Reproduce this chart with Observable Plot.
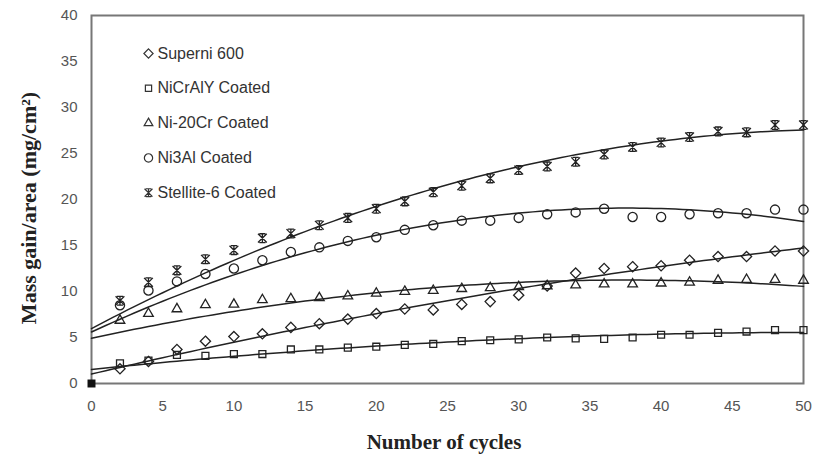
<!DOCTYPE html>
<html><head><meta charset="utf-8">
<script src="https://cdn.jsdelivr.net/npm/d3@7"></script>
<script src="https://cdn.jsdelivr.net/npm/@observablehq/plot@0.6"></script>
<style>body{margin:0;background:#fff}</style>
</head><body><div id="chart"></div>
<script>
// ---- Data ----
const cycles = [2,4,6,8,10,12,14,16,18,20,22,24,26,28,30,32,34,36,38,40,42,44,46,48,50];
const seriesNames = ["Superni 600","NiCrAlY Coated","Ni-20Cr Coated","Ni3Al Coated","Stellite-6 Coated"];
const superni  = [1.6,2.4,3.7,4.6,5.1,5.4,6.1,6.5,7.0,7.6,8.1,8.0,8.6,8.9,9.6,10.6,12.0,12.5,12.7,12.8,13.4,13.8,13.8,14.4,14.4];
const nicraly  = [2.2,2.5,3.1,3.0,3.2,3.2,3.7,3.7,3.9,4.0,4.2,4.3,4.6,4.7,4.8,5.0,4.9,4.85,5.0,5.3,5.3,5.5,5.65,5.8,5.8];
const ni20cr   = [6.85,7.6,8.1,8.55,8.6,9.1,9.2,9.3,9.5,9.8,10.0,10.1,10.3,10.4,10.5,10.6,10.7,10.8,10.8,10.9,11.0,11.2,11.3,11.3,11.2];
const ni3al    = [8.5,10.1,11.1,11.9,12.5,13.4,14.3,14.8,15.5,15.9,16.7,17.2,17.7,17.7,18.0,18.4,18.6,19.0,18.1,18.1,18.4,18.5,18.5,18.9,18.9];
const stellite = [9.0,11.0,12.3,13.5,14.5,15.8,16.3,17.2,18.0,19.0,19.8,20.8,21.5,22.3,23.2,23.6,24.1,24.9,25.7,26.2,26.8,27.4,27.3,28.1,28.1];
const origin = [{x: 0, y: 0}];
const xTicks = [0,5,10,15,20,25,30,35,40,45,50];
const yTicks = [0,5,10,15,20,25,30,35,40];
const yTitle = "Mass gain/area (mg/cm²)";
const xTitle = "Number of cycles";

const seriesValues = [superni, nicraly, ni20cr, ni3al, stellite];

// ---- polynomial least squares (trendline, includes the origin point) ----
function polyfit(xs, ys, deg) {
  const n = deg + 1;
  const A = Array.from({length: n}, () => new Array(n + 1).fill(0));
  for (let k = 0; k < xs.length; k++) {
    for (let i = 0; i < n; i++) {
      for (let j = 0; j < n; j++) A[i][j] += Math.pow(xs[k], i + j);
      A[i][n] += ys[k] * Math.pow(xs[k], i);
    }
  }
  for (let i = 0; i < n; i++) {
    let p = i;
    for (let r = i + 1; r < n; r++) if (Math.abs(A[r][i]) > Math.abs(A[p][i])) p = r;
    [A[i], A[p]] = [A[p], A[i]];
    for (let r = 0; r < n; r++) {
      if (r === i) continue;
      const f = A[r][i] / A[i][i];
      for (let c = i; c <= n; c++) A[r][c] -= f * A[i][c];
    }
  }
  return A.map((row, i) => row[n] / row[i]);
}
const DEG = 2;
const points = [];
const fits = [];
seriesNames.forEach((name, s) => {
  cycles.forEach((c, i) => points.push({series: name, x: c, y: seriesValues[s][i]}));
  const xs = [0, ...cycles], ys = [0, ...seriesValues[s]];
  const coef = polyfit(xs, ys, DEG);
  for (let t = 0; t <= 50; t += 0.5) {
    fits.push({series: name, x: t, y: coef.reduce((acc, c, i) => acc + c * Math.pow(t, i), 0)});
  }
});

// custom "star" marker (X with caps and vertical bar)
const starSymbol = {
  draw(ctx, size) {
    const r = Math.sqrt(size / Math.PI);
    ctx.moveTo(-r, -r); ctx.lineTo(r, r);
    ctx.moveTo(-r, r); ctx.lineTo(r, -r);
    ctx.moveTo(-r * 0.7, -r); ctx.lineTo(r * 0.7, -r);
    ctx.moveTo(-r * 0.7, r); ctx.lineTo(r * 0.7, r);
    ctx.moveTo(0, -r); ctx.lineTo(0, r);
  }
};
const symbols = ["diamond2", "square2", "triangle2", "circle", starSymbol];
const radii = [4.6, 4.4, 4.6, 4.6, 4.4];

const marks = [];
marks.push(Plot.frame({stroke: "#777", strokeWidth: 2}));
seriesNames.forEach((name, s) => {
  marks.push(Plot.line(fits.filter(d => d.series === name), {x: "x", y: "y", stroke: "#222", strokeWidth: 1.5}));
});
seriesNames.forEach((name, s) => {
  marks.push(Plot.dot(points.filter(d => d.series === name), {x: "x", y: "y", symbol: () => symbols[s], r: radii[s], stroke: "#222", strokeWidth: 1.3, fill: "none"}));
});
marks.push(Plot.dot(origin, {x: "x", y: "y", symbol: "square", r: 4.5, fill: "#111"}));

// legend inside the plot
seriesNames.forEach((name, s) => {
  const dy = 38 + s * 34.8;
  marks.push(Plot.dot([name], {frameAnchor: "top-left", dx: 57, dy, symbol: () => symbols[s], r: radii[s] * 0.9, stroke: "#333", strokeWidth: 1.2, fill: "none"}));
  marks.push(Plot.text([name], {text: d => d, frameAnchor: "top-left", lineAnchor: "middle", dx: 66, dy, textAnchor: "start", fontSize: 16, fill: "#333", fontFamily: "Liberation Sans, Arial, sans-serif"}));
});

marks.push(Plot.axisX({ticks: xTicks, tickSize: 0, tickPadding: 17, label: null, fontSize: 15, fill: "#555"}));
marks.push(Plot.axisY({ticks: yTicks, tickSize: 0, tickPadding: 14, label: null, fontSize: 15, fill: "#555"}));

const chart = Plot.plot({
  width: 814,
  height: 457,
  marginLeft: 91,
  marginRight: 11,
  marginTop: 15,
  marginBottom: 74,
  x: {domain: [0, 50]},
  y: {domain: [0, 40]},
  style: {fontFamily: "Liberation Sans, Arial, sans-serif", background: "#fff", overflow: "visible"},
  marks
});

// axis titles
const svg = d3.select(chart);
svg.append("text")
  .attr("transform", "translate(31,208) rotate(-90)")
  .attr("text-anchor", "middle")
  .attr("dominant-baseline", "middle")
  .attr("font-family", "Liberation Serif, Times New Roman, serif")
  .attr("font-weight", "bold")
  .attr("font-size", 22)
  .attr("fill", "#222")
  .text(yTitle);
svg.append("text")
  .attr("x", 444)
  .attr("y", 444)
  .attr("text-anchor", "middle")
  .attr("dominant-baseline", "middle")
  .attr("font-family", "Liberation Serif, Times New Roman, serif")
  .attr("font-weight", "bold")
  .attr("font-size", 21)
  .attr("fill", "#222")
  .text(xTitle);

document.getElementById("chart").appendChild(chart);
</script>
</body></html>
